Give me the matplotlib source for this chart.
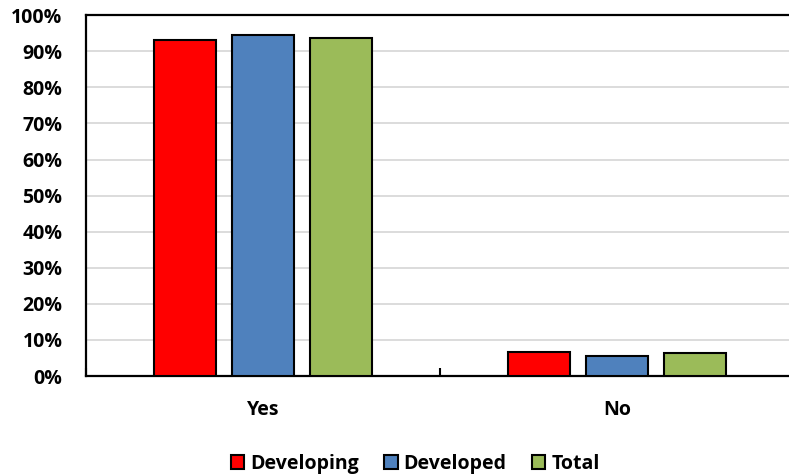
import numpy as np
import matplotlib
matplotlib.use("Agg")
from matplotlib import pyplot as plt
from matplotlib.ticker import PercentFormatter

categories = ["Yes", "No"]
series_names = ["Developing", "Developed", "Total"]
developing = [93.2, 6.8]
developed = [94.5, 5.5]
total = [93.7, 6.3]
colors = ["#ff0000", "#4f81bd", "#9bbb59"]

plt.rcParams['font.family'] = ['Open Sans', 'DejaVu Sans']
plt.rcParams['font.weight'] = 'bold'

fig = plt.figure(figsize=(7.89, 4.76), dpi=100)
ax = fig.add_axes([0.109, 0.210, 0.897, 0.758])

x = np.arange(len(categories))
width = 0.175
step = 0.22
for i, (vals, name) in enumerate(zip([developing, developed, total], series_names)):
    ax.bar(x + (i - 1) * step, vals, width, color=colors[i], edgecolor="black",
           linewidth=1.5, label=name, zorder=3)

ax.set_xlim(-0.5, 1.5)
ax.set_ylim(0, 100)
ax.set_yticks(np.arange(0, 101, 10))
ax.yaxis.set_major_formatter(PercentFormatter(decimals=0))
ax.tick_params(axis="y", length=0, labelsize=14, pad=17)
ax.set_xticks(x)
ax.set_xticklabels(categories)
ax.tick_params(axis="x", length=0, labelsize=14, pad=17)
ax.set_xticks([-0.5, 0.5, 1.5], minor=True)
ax.tick_params(axis="x", which="minor", direction="in", length=6, width=1.5)

ax.grid(axis="y", color="#d9d9d9", linewidth=1.3, zorder=0)
for s in ["top", "left", "bottom", "right"]:
    ax.spines[s].set_linewidth(1.6)
    ax.spines[s].set_color("black")

ax.legend(loc="lower center", bbox_to_anchor=(0.465, -0.32), ncol=3, frameon=False,
          fontsize=14, handlelength=0.7, handleheight=0.7, handletextpad=0.3,
          columnspacing=1.3)

fig.savefig("out.png", dpi=100)
